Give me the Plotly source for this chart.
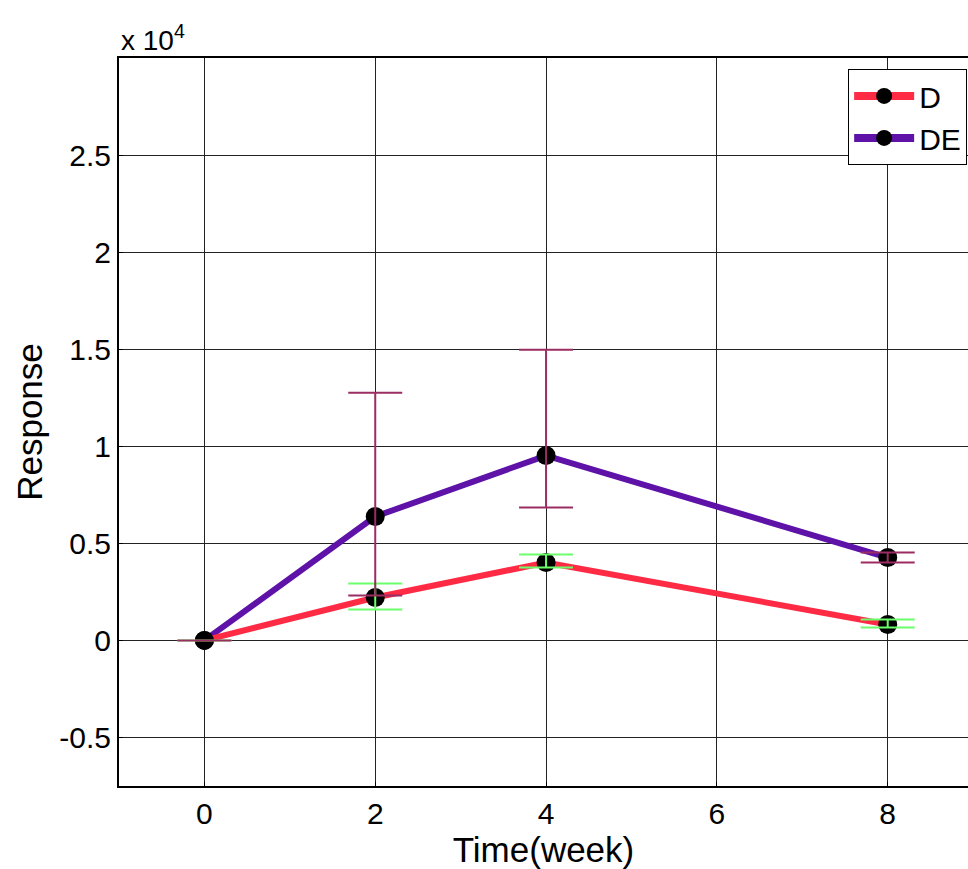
import plotly.graph_objects as go

weeks = [0, 2, 4, 8]
d_resp = [0, 2210, 4010, 820]
d_err_plus = [0, 720, 410, 260]
d_err_minus = [0, 620, 250, 150]
de_resp = [0, 6380, 9520, 4270]
de_err_plus = [0, 6380, 5450, 260]
de_err_minus = [0, 4070, 2680, 260]

y_ticks = [-5000, 0, 5000, 10000, 15000, 20000, 25000]
y_labels = ["-0.5", "0", "0.5", "1", "1.5", "2", "2.5"]
x_ticks = [0, 2, 4, 6, 8]

RED = "#FF2A44"
PURPLE = "#5E12A8"
MAROON = "#9B2D62"
GREEN = "#6BFF6B"
FONT = "Liberation Sans, Arial, sans-serif"

fig = go.Figure()
fig.add_trace(go.Scatter(x=weeks, y=de_resp, mode="lines+markers", name="DE",
                         line=dict(color=PURPLE, width=6),
                         marker=dict(color="black", size=19), showlegend=False))
fig.add_trace(go.Scatter(x=weeks, y=d_resp, mode="lines+markers", name="D",
                         line=dict(color=RED, width=6),
                         marker=dict(color="black", size=19), showlegend=False))
# error bars drawn on top of the markers
fig.add_trace(go.Scatter(x=weeks, y=d_resp, mode="markers", showlegend=False,
                         marker=dict(color="rgba(0,0,0,0)", size=1),
                         error_y=dict(type="data", symmetric=False, array=d_err_plus,
                                      arrayminus=d_err_minus, color=GREEN,
                                      thickness=2, width=27)))
fig.add_trace(go.Scatter(x=weeks, y=de_resp, mode="markers", showlegend=False,
                         marker=dict(color="rgba(0,0,0,0)", size=1),
                         error_y=dict(type="data", symmetric=False, array=de_err_plus,
                                      arrayminus=de_err_minus, color=MAROON,
                                      thickness=2, width=27)))
# legend entries
fig.add_trace(go.Scatter(x=[None], y=[None], mode="lines+markers", name="D",
                         line=dict(color=RED, width=8), marker=dict(color="black", size=18)))
fig.add_trace(go.Scatter(x=[None], y=[None], mode="lines+markers", name="DE",
                         line=dict(color=PURPLE, width=8), marker=dict(color="black", size=18)))

fig.update_layout(
    width=968, height=869,
    margin=dict(l=119, r=0, t=58, b=83),
    paper_bgcolor="white", plot_bgcolor="white",
    font=dict(family=FONT, color="black"),
    showlegend=True,
    legend=dict(x=0.999, y=0.985, xanchor="right", yanchor="top",
                bgcolor="white", bordercolor="black", borderwidth=1,
                font=dict(size=30, family=FONT), itemwidth=60,
                tracegroupgap=0),
    xaxis=dict(range=[-1, 8.94], tickvals=x_ticks, showgrid=True,
               gridcolor="#222", gridwidth=1, zeroline=False,
               showline=True, linecolor="black", linewidth=2, mirror=True,
               ticks="inside", ticklen=4, tickcolor="black",
               tickfont=dict(size=30, family=FONT),
               title=dict(text="Time(week)", font=dict(size=35, family=FONT), standoff=2)),
    yaxis=dict(range=[-7500, 30000], tickvals=y_ticks, ticktext=y_labels,
               showgrid=True, gridcolor="#222", gridwidth=1, zeroline=False,
               showline=True, linecolor="black", linewidth=2,
               ticks="inside", ticklen=4, tickcolor="black",
               tickfont=dict(size=30, family=FONT),
               title=dict(text="Response", font=dict(size=35, family=FONT), standoff=6)),
    annotations=[dict(text="x 10<sup>4</sup>", xref="paper", yref="paper",
                      x=0.0, y=1.0, xanchor="left", yanchor="bottom",
                      showarrow=False, font=dict(size=28, family=FONT), yshift=0)],
)

fig.write_html("out.html", config={"displayModeBar": False},
               post_script="document.body.style.margin='0px';document.body.style.overflow='hidden';")
